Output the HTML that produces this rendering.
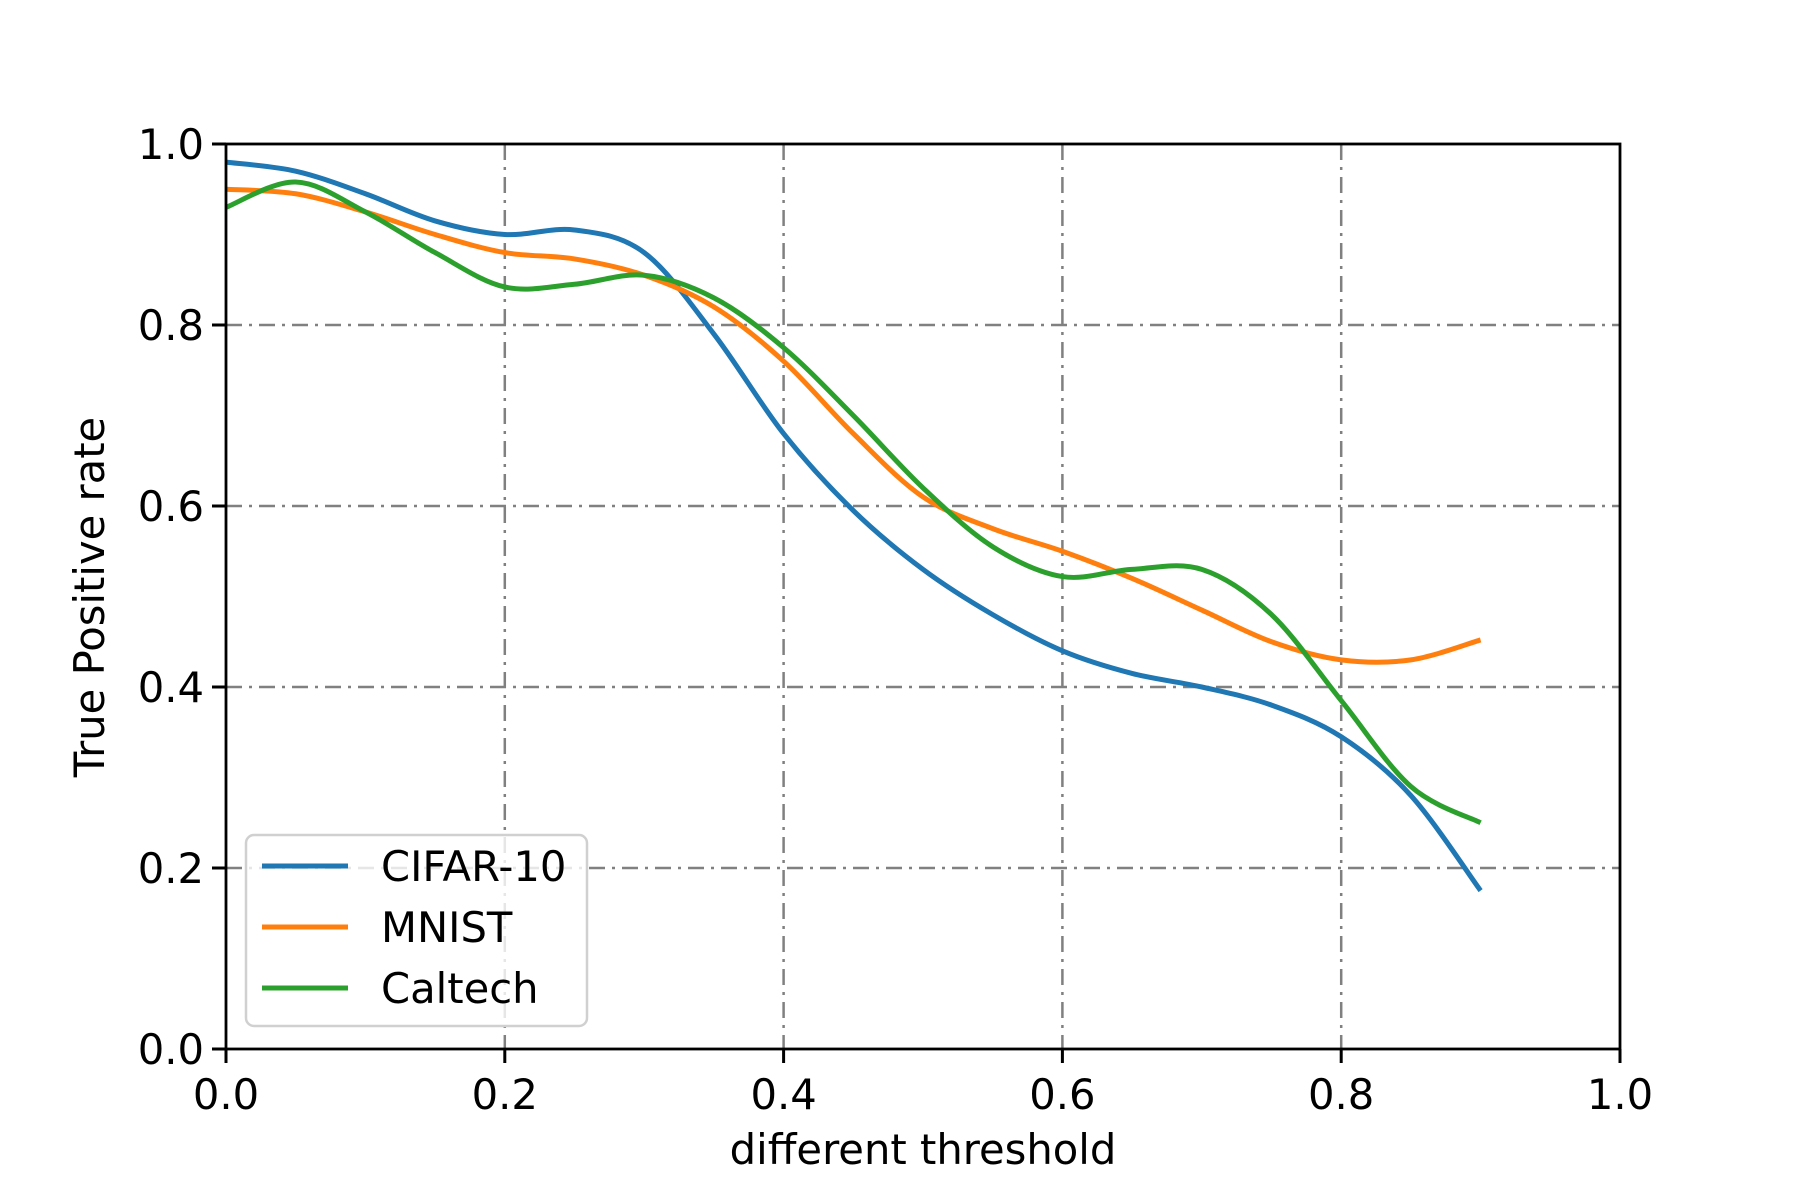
<!DOCTYPE html>
<html><head><meta charset="utf-8"><style>body{margin:0;background:#fff}svg{display:block}text{font-family:"DejaVu Sans","Liberation Sans",sans-serif;font-size:41.7px;fill:#000}</style></head>
<body>
<svg id="chart" width="1800" height="1200" xmlns="http://www.w3.org/2000/svg">
<rect width="1800" height="1200" fill="#fff"/>
<g id="grid"></g><g id="series"></g><g id="axes"></g><g id="legend"></g>
</svg>
<script>
const xs = [0,0.05,0.1,0.15,0.2,0.25,0.3,0.35,0.4,0.45,0.5,0.55,0.6,0.65,0.7,0.75,0.8,0.85,0.9];
const cifar = [0.98,0.97,0.945,0.915,0.90,0.905,0.88,0.79,0.68,0.595,0.53,0.48,0.44,0.415,0.40,0.38,0.345,0.28,0.175];
const mnist = [0.95,0.945,0.925,0.90,0.88,0.873,0.855,0.82,0.76,0.68,0.61,0.575,0.55,0.52,0.485,0.45,0.43,0.43,0.452];
const caltech = [0.93,0.958,0.925,0.88,0.842,0.845,0.855,0.83,0.775,0.70,0.62,0.555,0.522,0.53,0.53,0.48,0.385,0.29,0.25];
const xticks = [0,0.2,0.4,0.6,0.8,1.0];
const yticks = [0,0.2,0.4,0.6,0.8,1.0];
const seriesNames = ["CIFAR-10","MNIST","Caltech"];
const colors = ["#1f77b4","#ff7f0e","#2ca02c"];
const L=226,R=1620,T=144,B=1049;
const sx=v=>L+(R-L)*v, sy=v=>B-(B-T)*v;
const NS="http://www.w3.org/2000/svg";
function mk(tag,attrs,parent,txt){const e=document.createElementNS(NS,tag);for(const k in attrs)e.setAttribute(k,attrs[k]);if(txt!==undefined)e.textContent=txt;parent.appendChild(e);return e;}
const grid=document.getElementById('grid'),axes=document.getElementById('axes'),ser=document.getElementById('series'),leg=document.getElementById('legend');
xticks.forEach(v=>{
 if(v>0&&v<1){const g=mk('line',{x1:sx(v),x2:sx(v),y1:T,y2:B,stroke:'#808080','stroke-width':2.5,'stroke-dasharray':'16 7 3 7'},grid);
 
 }
 const t=mk('line',{x1:sx(v),x2:sx(v),y1:B,y2:B+14,stroke:'#000','stroke-width':3},axes);
 
 
 const l=mk('text',{x:sx(v),y:B+60,'text-anchor':'middle'},axes,v.toFixed(1));
 
 
});
yticks.forEach(v=>{
 if(v>0&&v<1){const g=mk('line',{x1:L,x2:R,y1:sy(v),y2:sy(v),stroke:'#808080','stroke-width':2.5,'stroke-dasharray':'16 7 3 7'},grid);
 
 }
 const t=mk('line',{x1:L-14,x2:L,y1:sy(v),y2:sy(v),stroke:'#000','stroke-width':3},axes);
 
 
 const l=mk('text',{x:L-22,y:sy(v)+15,'text-anchor':'end'},axes,v.toFixed(1));
 
 
});
function pathFor(ys){
 const p=xs.map((x,i)=>[sx(x),sy(ys[i])]);
 let d='M'+p[0][0]+','+p[0][1];
 for(let i=0;i<p.length-1;i++){
  const p0=p[Math.max(0,i-1)],p1=p[i],p2=p[i+1],p3=p[Math.min(p.length-1,i+2)];
  const c1=[p1[0]+(p2[0]-p0[0])/6,p1[1]+(p2[1]-p0[1])/6],c2=[p2[0]-(p3[0]-p1[0])/6,p2[1]-(p3[1]-p1[1])/6];
  d+=` C${c1[0]},${c1[1]} ${c2[0]},${c2[1]} ${p2[0]},${p2[1]}`;
 }
 return d;
}
[cifar,mnist,caltech].forEach((ys,i)=>{
 const p=mk('path',{d:pathFor(ys),fill:'none',stroke:colors[i],'stroke-width':5},ser);
 
 
});
const frame=mk('rect',{x:L,y:T,width:R-L,height:B-T,fill:'none',stroke:'#000','stroke-width':2.8},axes);


const xl=mk('text',{x:(L+R)/2,y:1164,'text-anchor':'middle'},axes,'different threshold');


const yl=mk('text',{x:0,y:0,'text-anchor':'middle',transform:'translate(104,597) rotate(-90)'},axes,'True Positive rate');


const box=mk('rect',{x:246,y:835,width:341,height:191,rx:8,fill:'#fff','fill-opacity':0.8,stroke:'#d0d0d0','stroke-width':2.5},leg);


seriesNames.forEach((n,i)=>{
 const y=866+i*61;
 const ln=mk('line',{x1:262,x2:348,y1:y,y2:y,stroke:colors[i],'stroke-width':5},leg);
 
 
 const t=mk('text',{x:381,y:y+15},leg,n);
 
 
});
</script>
</body></html>
